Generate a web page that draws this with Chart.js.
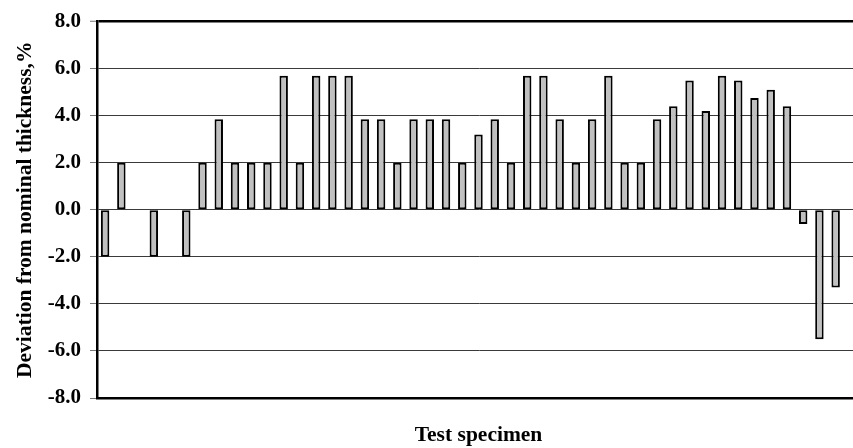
<!DOCTYPE html>
<html>
<head>
<meta charset="utf-8">
<script src="https://cdn.jsdelivr.net/npm/chart.js@4.4.1/dist/chart.umd.min.js"></script>
<style>
    html, body { margin: 0; padding: 0; background: #fff; overflow: hidden; }
    #wrap { position: relative; width: 862px; height: 448px; }
</style>
</head>
<body>
<div id="wrap"><canvas id="myChart" width="862" height="448"></canvas></div>
<script>
// specimen numbers (last slot is empty in the picture, chart is cut at the right)
const specimens = []
for (let i = 1; i <= 47; i++) specimens.push(String(i))

// deviation from nominal thickness, %
const deviation = [
    -2.0, 2.0, null, -2.0, null, -2.0, 2.0, 3.85, 2.0, 2.0,
    2.0, 5.7, 2.0, 5.7, 5.7, 5.7, 3.85, 3.85, 2.0, 3.85,
    3.85, 3.85, 2.0, 3.2, 3.85, 2.0, 5.7, 5.7, 3.85, 2.0,
    3.85, 5.7, 2.0, 2.0, 3.85, 4.4, 5.5, 4.2, 5.7, 5.5,
    4.75, 5.1, 4.4, -0.6, -5.5, -3.3, null
]

const yTicks = [-8, -6, -4, -2, 0, 2, 4, 6, 8]

const ctx = document.getElementById('myChart')
const fam = "'Liberation Serif', 'Times New Roman', serif"
const tickFont = { family: fam, weight: 'bold', size: 21 }
const titleFont = { family: fam, weight: 'bold', size: 21.5 }

Chart.defaults.color = '#000'

new Chart(ctx, {
    type: 'bar',
    data: {
        labels: specimens,
        datasets: [{
            data: deviation,
            backgroundColor: '#c0c0c0',
            borderColor: '#000',
            borderWidth: 2,
            borderSkipped: false,
            categoryPercentage: 1.0,
            barPercentage: 0.52
        }]
    },
    options: {
        responsive: false,
        animation: false,
        layout: { padding: { top: 19, left: 13, right: 2, bottom: 0 } },
        plugins: { legend: { display: false }, tooltip: { enabled: false } },
        scales: {
            x: {
                ticks: { display: false },
                grid: { display: false, drawTicks: false },
                border: { display: true, color: '#000', width: 2.5 },
                title: { display: true, text: 'Test specimen', font: titleFont, padding: { top: 25, bottom: 0 } },
                afterFit: (scale) => { scale.height = 50 }
            },
            y: {
                min: -8,
                max: 8,
                afterBuildTicks: (scale) => { scale.ticks = yTicks.map(v => ({ value: v })) },
                ticks: {
                    font: tickFont,
                    padding: 9,
                    callback: (v) => Number(v).toFixed(1)
                },
                grid: {
                    color: (c) => c.tick && c.tick.value === 8 ? '#000' : '#3a3a3a',
                    lineWidth: (c) => c.tick && c.tick.value === 8 ? 2.5 : 1,
                    tickColor: '#777',
                    tickLength: 7,
                    tickWidth: 1
                },
                border: { display: true, color: '#000', width: 2.5 },
                title: { display: true, text: 'Deviation from nominal thickness,%', font: titleFont, padding: 0 },
                afterFit: (scale) => { scale.width = 84 }
            }
        }
    }
})
</script>
</body>
</html>
